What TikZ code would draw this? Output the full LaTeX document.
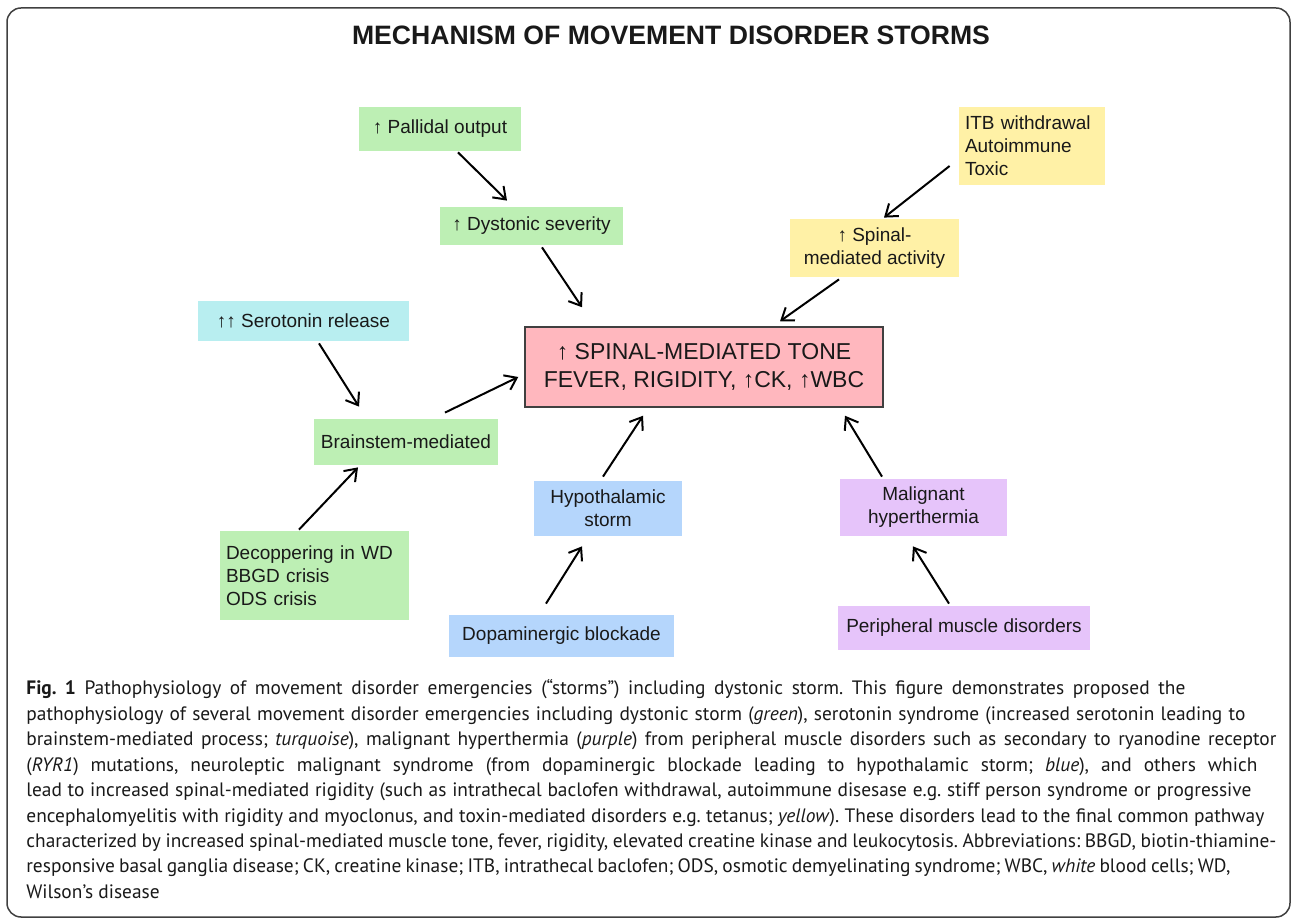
\documentclass[tikz,border=0pt]{standalone}
\usepackage{fontspec}
\setmainfont{Liberation Sans}
\newfontfamily\capfont{PT Sans}
\usepackage{tikz}
\usetikzlibrary{arrows.meta,positioning}
\definecolor{dystgreen}{RGB}{189,239,180}
\definecolor{spinyellow}{RGB}{255,241,166}
\definecolor{serturq}{RGB}{184,238,240}
\definecolor{hypoblue}{RGB}{181,214,252}
\definecolor{mhpurple}{RGB}{230,196,250}
\definecolor{tonepink}{RGB}{255,183,190}
\frenchspacing

\begin{document}
\begin{tikzpicture}[x=0.5pt, y=-0.5pt,
    every node/.style={font=\fontsize{9.5}{11.5}\selectfont, text=black!90},
    box/.style={inner sep=3pt, align=center},
    caption/.style={anchor=base west, inner sep=0pt, font=\capfont\fontsize{9.7}{12}\selectfont},
    arr/.style={-{Straight Barb[length=5.5pt,width=8pt]}, line width=1pt}]
  \useasboundingbox (0,0) rectangle (1292,919);
  % Frame and title
  \draw[black!75, line width=0.75pt, rounded corners=7pt] (7,8) rectangle (1290,917);
  \node[anchor=base, font=\fontsize{13.3}{15}\selectfont\bfseries] (title) at (671,45)
    {MECHANISM OF MOVEMENT DISORDER STORMS};
  % Dystonic storm (green)
  \node[box, fill=dystgreen, minimum width=81pt, minimum height=22pt] (pallidal) at (440,129)
    {↑ Pallidal output};
  \node[box, fill=dystgreen, minimum width=91.5pt, minimum height=19pt] (dystonic) at (531.5,226)
    {↑ Dystonic severity};
  \node[box, fill=dystgreen, minimum width=92pt, minimum height=23pt] (brainstem) at (406,442)
    {Brainstem-mediated};
  \node[box, fill=dystgreen, align=left, text width=88.5pt, minimum height=44.5pt] (decopper) at (314.5,575.5)
    {Decoppering in WD\\BBGD crisis\\ODS crisis};
  % Serotonin (turquoise)
  \node[box, fill=serturq, minimum width=105.5pt, minimum height=20pt] (serotonin) at (303.5,321)
    {↑↑ Serotonin release};
  % Spinal (yellow)
  \node[box, fill=spinyellow, align=left, text width=67pt, minimum height=39pt] (itb) at (1032,146)
    {ITB withdrawal\\Autoimmune\\Toxic};
  \node[box, fill=spinyellow, minimum width=84.5pt, minimum height=29pt] (spinal) at (874.5,248)
    {↑ Spinal-\\mediated activity};
  % Final common pathway
  \node[box, fill=tonepink, draw=black!75, line width=0.75pt, minimum width=179pt, minimum height=40pt,
    font=\fontsize{11.5}{14}\selectfont] (tone) at (704,367)
    {↑ SPINAL-MEDIATED TONE\\FEVER, RIGIDITY, ↑CK, ↑WBC};
  % NMS (blue)
  \node[box, fill=hypoblue, minimum width=74pt, minimum height=27.5pt] (hypo) at (608,508.5)
    {Hypothalamic\\storm};
  \node[box, fill=hypoblue, minimum width=112.5pt, minimum height=21pt] (dopa) at (561.5,636)
    {Dopaminergic blockade};
  % MH (purple)
  \node[box, fill=mhpurple, minimum width=83.5pt, minimum height=28.5pt] (malig) at (923.5,507.5)
    {Malignant\\hyperthermia};
  \node[box, fill=mhpurple, minimum width=126pt, minimum height=22pt] (periph) at (964,628)
    {Peripheral muscle disorders};
  % Arrows
  \draw[arr] ([shift={(18,1)}]pallidal.south) -- ([shift={(-24.5,-6)}]dystonic.north);
  \draw[arr] ([shift={(10.5,2)}]dystonic.south) -- ([shift={(-122,-19)}]tone.north);
  \draw[arr] ([shift={(-9,20)}]itb.west) -- ([shift={(9.5,-1)}]spinal.north);
  \draw[arr] ([shift={(-35.5,2)}]spinal.south) -- ([shift={(76,-5)}]tone.north);
  \draw[arr] ([shift={(15.5,2)}]serotonin.south) -- ([shift={(-47,-12)}]brainstem.north);
  \draw[arr] ([shift={(39,-6)}]brainstem.north) -- ([shift={(-6,10)}]tone.west);
  \draw[arr] ([shift={(-15.5,-1)}]decopper.north) -- ([shift={(-48,2)}]brainstem.south);
  \draw[arr] ([shift={(-5,-4)}]hypo.north) -- ([shift={(-61,8)}]tone.south);
  \draw[arr] ([shift={(-15.5,-11)}]dopa.north) -- ([shift={(-26,10)}]hypo.south);
  \draw[arr] ([shift={(-41.5,-2)}]malig.north) -- ([shift={(141,8)}]tone.south);
  \draw[arr] ([shift={(-15,-2)}]periph.north) -- ([shift={(-10.5,10)}]malig.south);
  % Caption
  \foreach \w/\txt [count=\i] in {
      579.5pt/{\textbf{Fig. 1} Pathophysiology of movement disorder emergencies (“storms”) including dystonic storm. This figure demonstrates proposed the},
      609.5pt/{pathophysiology of several movement disorder emergencies including dystonic storm (\textit{green}), serotonin syndrome (increased serotonin leading to},
      625pt/{brainstem-mediated process; \textit{turquoise}), malignant hyperthermia (\textit{purple}) from peripheral muscle disorders such as secondary to ryanodine receptor},
      615.5pt/{(\textit{RYR1}) mutations, neuroleptic malignant syndrome (from dopaminergic blockade leading to hypothalamic storm; \textit{blue}), and others which},
      612.5pt/{lead to increased spinal-mediated rigidity (such as intrathecal baclofen withdrawal, autoimmune disesase e.g. stiff person syndrome or progressive},
      619pt/{encephalomyelitis with rigidity and myoclonus, and toxin-mediated disorders e.g. tetanus; \textit{yellow}). These disorders lead to the final common pathway},
      625pt/{characterized by increased spinal-mediated muscle tone, fever, rigidity, elevated creatine kinase and leukocytosis. Abbreviations: BBGD, biotin-thiamine-},
      602pt/{responsive basal ganglia disease; CK, creatine kinase; ITB, intrathecal baclofen; ODS, osmotic demyelinating syndrome; WBC, \textit{white} blood cells; WD,}} {
    \node[caption] (cap\i) at (26,{695+25.4*(\i-1)}) {\makebox[\w][s]{\txt}};
  }
  \node[caption] (cap9) at (26,898) {Wilson’s disease};
\end{tikzpicture}
\end{document}
